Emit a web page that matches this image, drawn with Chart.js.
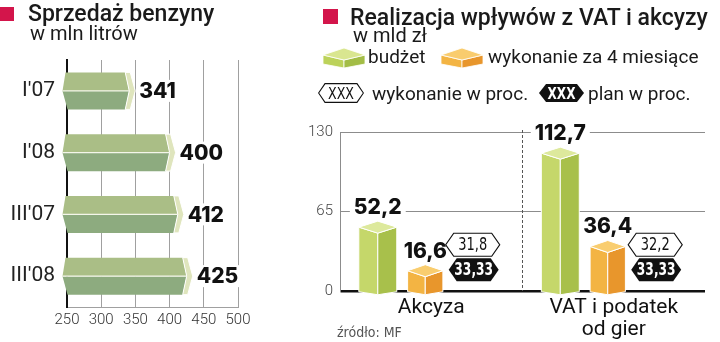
<!DOCTYPE html>
<html lang="pl">
<head>
<meta charset="UTF-8">
<title>Sprzedaż benzyny / Realizacja wpływów z VAT i akcyzy</title>
<script src="https://cdn.jsdelivr.net/npm/chart.js@4.4.1/dist/chart.umd.min.js"></script>
<style>
  body { margin: 0; background: #fff; width: 720px; height: 342px; position: relative; overflow: hidden; font-family: Roboto, sans-serif; color: #1a1a1a; }
  .abs { position: absolute; white-space: nowrap; }
  .sq { position: absolute; background: #d3154b; }
  .title { font-size: 23px; font-weight: 500; line-height: 23px; }
  .sub { font-size: 20px; line-height: 20px; }
  .leg { font-size: 19px; line-height: 19px; }
  .src { font-family: "DejaVu Sans Condensed", sans-serif; font-size: 14px; color: #555; }
  canvas { position: absolute; }
</style>
</head>
<body>
<canvas id="benz" width="260" height="342" style="left:0;top:0"></canvas>
<canvas id="vat" width="430" height="342" style="left:290px;top:0"></canvas>

<div class="sq" style="left:0;top:7px;width:14px;height:14px"></div>
<div class="abs title" style="left:28px;top:2px">Sprzedaż benzyny</div>
<div class="abs sub" style="left:30px;top:23px">w mln litrów</div>

<div class="sq" style="left:323px;top:9px;width:15px;height:15px"></div>
<div class="abs title" style="left:350px;top:6px">Realizacja wpływów z VAT i akcyzy</div>
<div class="abs sub" style="left:353px;top:25px">w mld zł</div>

<svg class="abs" style="left:323px;top:48px" width="42" height="20">
  <polygon points="0,7 21,12 21,20 0,16" fill="#bcd25a" stroke="#fff" stroke-width="0.8"/>
  <polygon points="21,12 42,7 42,16 21,20" fill="#a3bd46" stroke="#fff" stroke-width="0.8"/>
  <polygon points="0,7 21,0 42,7 21,12" fill="#d9e690" stroke="#fff" stroke-width="0.8"/>
</svg>
<div class="abs leg" style="left:368px;top:47px">budżet</div>
<svg class="abs" style="left:441px;top:48px" width="42" height="20">
  <polygon points="0,7 21,12 21,20 0,16" fill="#f3b443" stroke="#fff" stroke-width="0.8"/>
  <polygon points="21,12 42,7 42,16 21,20" fill="#e8962c" stroke="#fff" stroke-width="0.8"/>
  <polygon points="0,7 21,0 42,7 21,12" fill="#f9cc6e" stroke="#fff" stroke-width="0.8"/>
</svg>
<div class="abs leg" style="left:488px;top:47px">wykonanie za 4 miesiące</div>

<svg class="abs" style="left:318px;top:83px" width="46" height="20">
  <polygon points="0.6,10 7,0.6 39,0.6 45.4,10 39,19.4 7,19.4" fill="#fff" stroke="#111" stroke-width="1.1"/>
  <text x="10" y="15.5" textLength="26" lengthAdjust="spacingAndGlyphs" font-family="DejaVu Sans Condensed" font-size="15" fill="#111">XXX</text>
</svg>
<div class="abs leg" style="left:372px;top:84px">wykonanie w proc.</div>
<svg class="abs" style="left:539px;top:84px" width="45" height="18">
  <polygon points="0,9 7,0 38,0 45,9 38,18 7,18" fill="#111"/>
  <text x="8.5" y="14.5" textLength="28" lengthAdjust="spacingAndGlyphs" font-family="DejaVu Sans Condensed" font-weight="bold" font-size="15" fill="#fff">XXX</text>
</svg>
<div class="abs leg" style="left:588px;top:84px">plan w proc.</div>

<div class="abs src" style="left:337px;top:324px">źródło: MF</div>

<script>
// sprzedaż benzyny, mln litrów
const benzCats = ["I'07", "I'08", "III'07", "III'08"];
const benzValues = [341, 400, 412, 425];
const benzTicks = [250, 300, 350, 400, 450, 500];

// VAT i akcyza, mld zł
const vatCats = ['Akcyza', ['VAT i podatek', 'od gier']];
const budzet = [52.2, 112.7];
const wykonanie = [16.6, 36.4];
const wykonanieProc = [31.8, 32.2];
const planProc = [33.33, 33.33];
const vatTicks = [0, 65, 130];

const fmt = v => String(v).replace('.', ',');
const clear = 'rgba(0,0,0,0)';
const valueFont = '800 21px Inter, "DejaVu Sans", sans-serif';

function poly(ctx, pts, fill, stroke, lw) {
  ctx.beginPath();
  pts.forEach((p, i) => i ? ctx.lineTo(p[0], p[1]) : ctx.moveTo(p[0], p[1]));
  ctx.closePath();
  if (fill) { ctx.fillStyle = fill; ctx.fill(); }
  if (stroke) { ctx.strokeStyle = stroke; ctx.lineWidth = lw || 1; ctx.stroke(); }
}

function hex(ctx, cx, cy, w, h, k, fill, stroke) {
  poly(ctx, [[cx - w / 2, cy], [cx - w / 2 + k, cy - h / 2], [cx + w / 2 - k, cy - h / 2],
             [cx + w / 2, cy], [cx + w / 2 - k, cy + h / 2], [cx - w / 2 + k, cy + h / 2]], fill, stroke, 1.2);
}

// squeezed text for the hexagon badges (no narrow font installed)
function narrowText(ctx, t, x, y, font, sx, color) {
  ctx.save();
  ctx.translate(x, y);
  ctx.scale(sx, 1);
  ctx.font = font;
  ctx.fillStyle = color;
  ctx.textAlign = 'center';
  ctx.textBaseline = 'middle';
  ctx.fillText(t, 0, 0);
  ctx.restore();
}

const benzBars = {
  id: 'benzBars',
  afterDatasetsDraw(chart) {
    const ctx = chart.ctx;
    chart.getDatasetMeta(0).data.forEach((bar, i) => {
      const x0 = bar.base, x1 = bar.x, h = bar.height;
      const top = bar.y - h / 2, bot = bar.y + h / 2, mid = bar.y;
      poly(ctx, [[x0 - 2, top], [x1 - 4, top], [x1, mid], [x0 - 5, mid]], '#aabe86');
      poly(ctx, [[x0 - 5, mid], [x1, mid], [x1 - 4, bot], [x0, bot]], '#8dab7f');
      poly(ctx, [[x1 - 4, top], [x1 + 1, top], [x1 + 6, mid], [x1 + 1, bot], [x1 - 4, bot], [x1, mid]], '#dfe5bd', '#fff', 1);
      ctx.strokeStyle = '#f4f6ea';
      ctx.lineWidth = 1.2;
      ctx.beginPath(); ctx.moveTo(x0 - 5, mid); ctx.lineTo(x1, mid); ctx.stroke();

      ctx.font = valueFont;
      const t = fmt(benzValues[i]);
      const tw = ctx.measureText(t).width;
      const tx = x1 + 10;
      ctx.fillStyle = '#fff';
      ctx.fillRect(tx - 2, mid - 11, tw + 3, 22);
      ctx.fillStyle = '#111';
      ctx.textAlign = 'left';
      ctx.textBaseline = 'middle';
      ctx.fillText(t, tx, mid + 1);
    });
  }
};

const groupShift = -6;
const boxColors = [
  { left: '#c5d76a', right: '#a8c04b', top: '#dde99c' },
  { left: '#f3b443', right: '#e8962c', top: '#f9cd6f' }
];

const vatBars = {
  id: 'vatBars',
  afterDatasetsDraw(chart) {
    const ctx = chart.ctx, area = chart.chartArea, xs = chart.scales.x;

    const sep = (xs.getPixelForValue(0) + xs.getPixelForValue(1)) / 2;
    ctx.save();
    ctx.strokeStyle = '#555';
    ctx.lineWidth = 1;
    ctx.setLineDash([3, 2]);
    ctx.beginPath(); ctx.moveTo(sep, area.top - 2); ctx.lineTo(sep, area.bottom); ctx.stroke();
    ctx.restore();

    const values = [budzet, wykonanie];
    ctx.font = valueFont;
    ctx.textAlign = 'center';
    ctx.textBaseline = 'alphabetic';
    // label backgrounds first, so the gridlines break around them
    [0, 1].forEach(d => {
      chart.getDatasetMeta(d).data.forEach((bar, i) => {
        const t = fmt(values[d][i]);
        const tw = ctx.measureText(t).width;
        const cx = bar.x + groupShift;
        ctx.fillStyle = '#fff';
        ctx.fillRect(cx - tw / 2 - 4, bar.y - 30, tw + 8, 16);
      });
    });

    [0, 1].forEach(d => {
      const c = boxColors[d];
      chart.getDatasetMeta(d).data.forEach((bar, i) => {
        const cx = bar.x + groupShift;
        const hw = bar.width / 2 * (d === 1 ? 0.93 : 1);
        const vy = bar.y, base = bar.base, dz = 6;
        poly(ctx, [[cx - hw, vy], [cx, vy + dz], [cx, base + 5], [cx - hw, base + 2]], c.left, '#fff', 1);
        poly(ctx, [[cx, vy + dz], [cx + hw, vy], [cx + hw, base + 2], [cx, base + 5]], c.right, '#fff', 1);
        poly(ctx, [[cx - hw, vy], [cx, vy - dz], [cx + hw, vy], [cx, vy + dz]], c.top, '#fff', 1);

        ctx.fillStyle = '#111';
        ctx.font = valueFont;
        ctx.textAlign = 'center';
        ctx.textBaseline = 'alphabetic';
        ctx.fillText(fmt(values[d][i]), cx, vy - 13);
      });
    });

    chart.getDatasetMeta(2).data.forEach((bar, i) => {
      const cx = bar.x + groupShift, base = bar.base;
      hex(ctx, cx, base - 45, 54, 23, 8, '#fff', '#111');
      hex(ctx, cx + 1, base - 20, 50, 23, 8, '#111');
      narrowText(ctx, fmt(wykonanieProc[i]), cx, base - 44, '17px "DejaVu Sans Condensed", sans-serif', 0.85, '#111');
      narrowText(ctx, fmt(planProc[i]), cx + 1, base - 19, 'bold 17px "DejaVu Sans Condensed", sans-serif', 0.8, '#fff');
    });
  }
};

new Chart(document.getElementById('benz'), {
  type: 'bar',
  data: {
    labels: benzCats,
    datasets: [{ data: benzValues, base: 250, backgroundColor: clear, barThickness: 37 }]
  },
  options: {
    indexAxis: 'y',
    responsive: false,
    animation: false,
    events: [],
    layout: { padding: { top: 60, right: 22, left: 0, bottom: 0 } },
    plugins: { legend: { display: false }, tooltip: { enabled: false } },
    scales: {
      x: {
        min: 250, max: 500,
        afterBuildTicks: s => { s.ticks = benzTicks.map(v => ({ value: v })); },
        afterFit: s => { s.height = 35; },
        grid: { color: c => (c.tick && c.tick.value === 250) ? clear : '#a0a0a0', lineWidth: 1, drawTicks: false },
        border: { color: '#a0a0a0', width: 1 },
        ticks: { padding: 4, color: '#333', font: { family: 'Roboto', size: 15, weight: 300 } }
      },
      y: {
        afterFit: s => { s.width = 67; },
        grid: { display: false, drawTicks: false },
        border: { color: '#111', width: 2 },
        ticks: { padding: 12, color: '#222', font: { family: 'Roboto', size: 21 } }
      }
    }
  },
  plugins: [benzBars]
});

new Chart(document.getElementById('vat'), {
  type: 'bar',
  data: {
    labels: vatCats,
    datasets: [
      { label: 'budżet', data: budzet, backgroundColor: clear },
      { label: 'wykonanie za 4 miesiące', data: wykonanie, backgroundColor: clear },
      { label: 'wykonanie w proc.', data: wykonanieProc, backgroundColor: clear }
    ]
  },
  options: {
    responsive: false,
    animation: false,
    events: [],
    categoryPercentage: 0.78,
    barPercentage: 0.8,
    layout: { padding: { top: 132, right: 15, left: 0, bottom: 0 } },
    plugins: { legend: { display: false }, tooltip: { enabled: false } },
    scales: {
      x: {
        afterFit: s => { s.height = 51; },
        grid: { display: false, drawTicks: false },
        border: { display: false },
        ticks: { padding: 6, color: '#111', font: { family: 'Roboto', size: 21, lineHeight: 1.05 } }
      },
      y: {
        min: 0, max: 130,
        afterBuildTicks: s => { s.ticks = vatTicks.map(v => ({ value: v })); },
        afterFit: s => { s.width = 50; },
        grid: {
          drawTicks: false,
          color: c => (c.tick && c.tick.value === 0) ? '#111' : '#8c8c8c',
          lineWidth: c => (c.tick && c.tick.value === 0) ? 2.5 : 1
        },
        border: { color: '#8c8c8c', width: 1 },
        ticks: { padding: 7, color: '#444', font: { family: 'Roboto', size: 15, weight: 300 } }
      }
    }
  },
  plugins: [vatBars]
});
</script>
</body>
</html>
